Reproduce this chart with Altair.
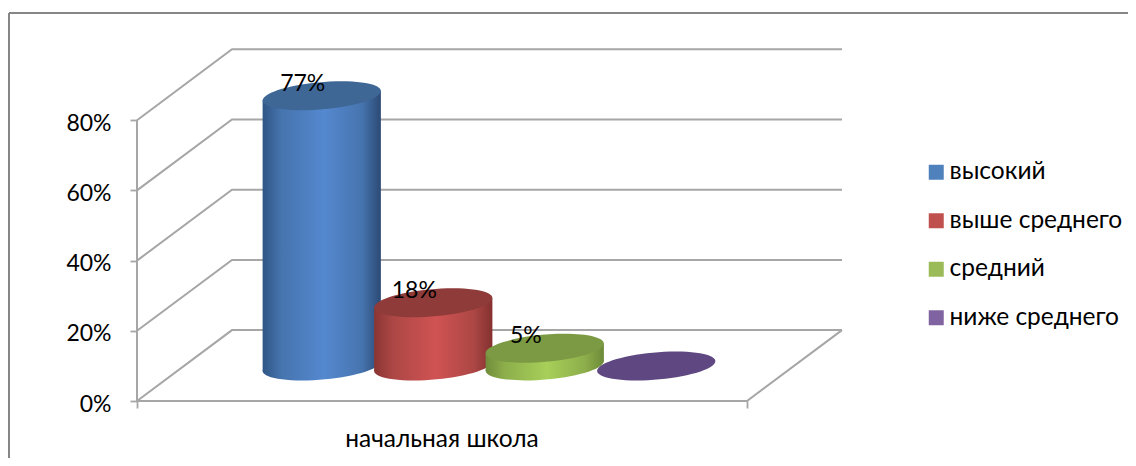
import altair as alt
import pandas as pd

CATEGORY = "начальная школа"
SERIES = ["высокий", "выше среднего", "средний", "ниже среднего"]
VALUES = [77, 18, 5, 0]
LEGEND_COLORS = ["#4F81BD", "#C0504D", "#9BBB59", "#8064A2"]
TOP_COLORS = ["#3F6796", "#8E3B39", "#7C9A44", "#5F4881"]
EDGE_COLORS = [("#2F5685", "#2C4A75"), ("#8A3533", "#84312F"), ("#708C3B", "#6C8A38"), ("#5F4881", "#5F4881")]
SHOULDER_COLORS = ["#4674AE", "#AC4745", "#8DAE4B", "#5F4881"]
MID_COLORS = ["#5488CF", "#D05353", "#A7CF59", "#5F4881"]
Y_TICKS = [0, 20, 40, 60, 80]
GRID = "#A6A6A6"
FRAME = "#868686"
FONT = "Lato"

# Value space: x = % of category axis, y = % value. Depth is the oblique shift of the floor.
PX_X, PX_Y = 6.10, 3.51
ORIGIN_X, ORIGIN_Y = 129, 393
W, H = 1120, 450
DX, DY = 95 / PX_X, 20.0
WALL_DY = 20.2
SLOT = 18.28                        # one cylinder's slot along the axis
FIRST = 22.5
x_scale = alt.Scale(domain=[-ORIGIN_X / PX_X, (W - ORIGIN_X) / PX_X], range=[0, W], nice=False, zero=False)
y_scale = alt.Scale(domain=[(ORIGIN_Y - H) / PX_Y, ORIGIN_Y / PX_Y], range=[H, 0], nice=False, zero=False)

x_axis = alt.Axis(values=[0, 100], labels=False, domain=False, grid=False, ticks=True,
                  tickColor=GRID, tickSize=7, tickWidth=1.8, offset=-(H - ORIGIN_Y), title=None)
y_axis = alt.Axis(values=Y_TICKS, labelExpr="datum.value + '%'", domain=False, grid=False,
                  tickColor=GRID, tickSize=7, tickWidth=1.8, labelFont=FONT, labelFontSize=23,
                  labelColor="black", labelPadding=19, labelOffset=3, offset=-ORIGIN_X, title=None)


def X(field="x"):
    return alt.X(f"{field}:Q", scale=x_scale, axis=x_axis)


def Y(field="y"):
    return alt.Y(f"{field}:Q", scale=y_scale, axis=y_axis)


# ---- ellipse outline (a circle lying on the oblique floor), as Bezier path
HW, SKEW, HH = 55.75, 19.7, 14.5
EXT = (HW ** 2 + SKEW ** 2) ** 0.5
TILT_Y = HH * (SKEW / EXT) / PX_Y   # height of the side extremes, in % units


def pt(c, s):
    return f"{(HW * c + SKEW * s) / EXT:.4f},{-HH * s / EXT:.4f}"


K = 0.5523
ELLIPSE = (
    f"M{pt(1, 0)}"
    f"C{pt(1, K)} {pt(K, 1)} {pt(0, 1)}"
    f"C{pt(-K, 1)} {pt(-1, K)} {pt(-1, 0)}"
    f"C{pt(-1, -K)} {pt(-K, -1)} {pt(0, -1)}"
    f"C{pt(K, -1)} {pt(1, -K)} {pt(1, 0)}Z"
)
ELL_SIZE = (2 * EXT) ** 2

# ---- wireframe
rows = []
gid = 0
for v in Y_TICKS:
    for x, y in [(0, v), (DX, v + WALL_DY), (100 + DX, v + WALL_DY)]:
        rows.append({"x": x, "y": y, "g": gid})
    gid += 1
for x, y in [(0, 80), (0, 0), (100, 0), (100 + DX, WALL_DY)]:
    rows.append({"x": x, "y": y, "g": gid})
wire = pd.DataFrame(rows)

frame = alt.Chart(wire).mark_line(color=GRID, strokeWidth=2, strokeJoin="miter").encode(
    x=X(), y=Y(), detail="g:N", order="o:Q",
).transform_window(o="row_number()", groupby=["g"])

border_l = alt.Chart(pd.DataFrame({"a": [0]})).mark_rule(color=FRAME, strokeWidth=2).encode(
    x=alt.value(1), y=alt.value(5), y2=alt.value(H))
border_t = alt.Chart(pd.DataFrame({"a": [0]})).mark_rule(color=FRAME, strokeWidth=2).encode(
    x=alt.value(1), x2=alt.value(W), y=alt.value(5))

# ---- legend carrier
legend_df = pd.DataFrame({"s": SERIES, "v": VALUES})
legend_layer = alt.Chart(legend_df).mark_square(size=0, opacity=1, filled=True).encode(
    x=X("v"),
    y=Y("v"),
    color=alt.Color("s:N", sort=SERIES, scale=alt.Scale(domain=SERIES, range=LEGEND_COLORS),
                    legend=alt.Legend(title=None, orient="none", legendX=916, legendY=152,
                                      symbolType="square", symbolSize=225, symbolStrokeWidth=0,
                                      labelFont=FONT, labelFontSize=24.5, labelColor="black",
                                      labelOffset=1, rowPadding=23.5, padding=0, labelLimit=300)),
)

layers = [border_l, border_t, frame, legend_layer]

# ---- cylinders
for i, (name, val) in enumerate(zip(SERIES, VALUES)):
    cx = FIRST + i * SLOT + DX / 2
    base = DY / 2
    top = val + base
    half = EXT / PX_X
    grad = alt.Gradient(
        gradient="linear", x1=0, x2=1, y1=0, y2=0,
        stops=[alt.GradientStop(offset=0, color=EDGE_COLORS[i][0]),
               alt.GradientStop(offset=0.16, color=SHOULDER_COLORS[i]),
               alt.GradientStop(offset=0.52, color=MID_COLORS[i]),
               alt.GradientStop(offset=0.84, color=SHOULDER_COLORS[i]),
               alt.GradientStop(offset=1, color=EDGE_COLORS[i][1])],
    )
    if val > 0:
        body = pd.DataFrame({
            "x": [cx - half, cx + half],
            "y": [top - TILT_Y, top + TILT_Y],
            "y2": [base - TILT_Y, base + TILT_Y],
        })
        layers.append(alt.Chart(pd.DataFrame({"x": [cx], "y": [base]})).mark_point(
            shape=ELLIPSE, size=ELL_SIZE, filled=True, fill=grad, opacity=1, strokeWidth=0
        ).encode(x=X(), y=Y()))
        layers.append(alt.Chart(body).mark_area(fill=grad, orient="vertical", opacity=1).encode(
            x=X(), y=Y(), y2="y2:Q"))
    layers.append(alt.Chart(pd.DataFrame({"x": [cx], "y": [top]})).mark_point(
        shape=ELLIPSE, size=ELL_SIZE, filled=True, fill=TOP_COLORS[i], opacity=1, strokeWidth=0
    ).encode(x=X(), y=Y()))

# ---- data labels
lab = pd.DataFrame({
    "x": [FIRST + i * SLOT + DX / 2 for i, v in enumerate(VALUES) if v > 0],
    "y": [v + DY / 2 for v in VALUES if v > 0],
    "t": [f"{v}%" for v in VALUES if v > 0],
})
layers.append(alt.Chart(lab).mark_text(font=FONT, fontSize=23, color="black", dx=-19, dy=-12).encode(
    x=X(), y=Y(), text="t:N"))

# ---- category label
layers.append(alt.Chart(pd.DataFrame({"x": [50], "y": [-11.1], "t": [CATEGORY]})).mark_text(
    font=FONT, fontSize=24.5, color="black").encode(x=X(), y=Y(), text="t:N"))

chart = alt.layer(*layers).properties(
    width=W, height=H, padding=0, autosize=alt.AutoSizeParams(type="none"), background="white"
).configure_view(stroke=None)

chart.save("out.html", embed_options={"renderer": "svg", "actions": False})
